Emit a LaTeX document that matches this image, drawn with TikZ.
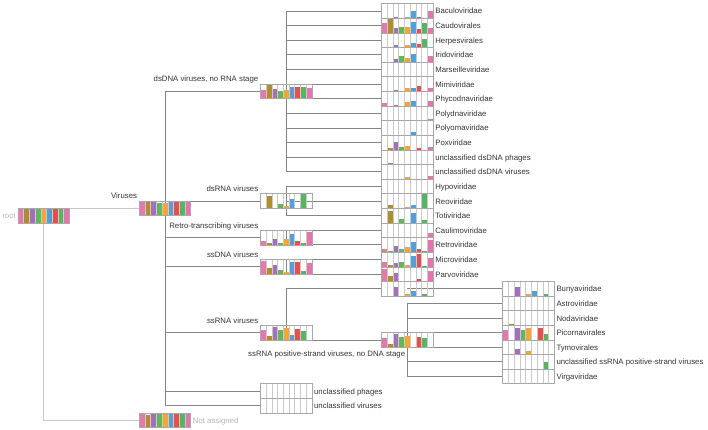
\documentclass[tikz,border=0pt]{standalone}
\usepackage{fontspec}
\setmainfont{Liberation Sans}
\usetikzlibrary{calc}
\definecolor{bar1}{HTML}{E678AF}
\definecolor{bar2}{HTML}{B08E2A}
\definecolor{bar3}{HTML}{A56EBE}
\definecolor{bar4}{HTML}{5FB95A}
\definecolor{bar5}{HTML}{F5A532}
\definecolor{bar6}{HTML}{50A0DC}
\definecolor{bar7}{HTML}{EE4B4B}
\definecolor{bar8}{HTML}{50B95F}
\definecolor{bar9}{HTML}{E872AE}
\definecolor{edgegray}{HTML}{858585}
\definecolor{rootgray}{HTML}{C8C8C8}
\definecolor{cellgray}{HTML}{CACACA}
\definecolor{framegray}{HTML}{A8A8A8}
\definecolor{labelgray}{HTML}{333333}
\definecolor{lightlabel}{HTML}{B4B4B4}
\newcommand{\lblfont}{\fontsize{7.8}{9}\selectfont}
\def\chtW{5.7222}
\def\chtH{14.62}
\newcommand{\drawchart}[2]{%
  \foreach \hh [count=\ii] in {#2} {
    \ifdim\hh pt>0pt
      \pgfmathsetmacro{\xo}{(\ii-1)*\chtW}
      \fill[bar\ii] ($(#1.south west)+(\xo,0)$) rectangle ++(\chtW,\hh*\chtH);
    \fi
  }
  \foreach \ii in {1,...,8} {
    \draw[cellsep] ($(#1.south west)+(\ii*\chtW,0)$) -- ++(0,\chtH);
  }
  \draw[chartframe] (#1.south west) rectangle (#1.north east);
}
\begin{document}
\begin{tikzpicture}[x=1pt,y=1pt,
  chart/.style={rectangle, minimum width=51.5pt, minimum height=14.62pt, inner sep=0pt, outer sep=0pt},
  edge/.style={draw=edgegray, line width=0.9pt},
  rootedge/.style={draw=rootgray, line width=0.9pt},
  cellsep/.style={draw=cellgray, line width=0.6pt},
  chartframe/.style={draw=framegray, line width=0.7pt},
  lbl/.style={font=\lblfont, text=labelgray, inner sep=0pt},
  glbl/.style={font=\lblfont, text=lightlabel, inner sep=0pt}]
\useasboundingbox (0,0) rectangle (708,-430);
% ---- chart nodes
\node[chart] (root) at (43.75,-215.68) {};
\node[chart] (vir) at (164.95,-208.37) {};
\node[chart] (na) at (164.95,-420.36) {};
\node[chart] (dsdna) at (286.15,-91.41) {};
\node[chart] (dsrna) at (286.15,-201.06) {};
\node[chart] (retro) at (286.15,-237.61) {};
\node[chart] (ssdna) at (286.15,-266.85) {};
\node[chart] (ssrna) at (286.15,-332.64) {};
\node[chart] (uph) at (286.15,-391.12) {};
\node[chart] (uvir) at (286.15,-405.74) {};
\node[chart] (bacu) at (407.35,-11.00) {};
\node[chart] (caudo) at (407.35,-25.62) {};
\node[chart] (herpes) at (407.35,-40.24) {};
\node[chart] (irido) at (407.35,-54.86) {};
\node[chart] (marse) at (407.35,-69.48) {};
\node[chart] (mimi) at (407.35,-84.10) {};
\node[chart] (phyco) at (407.35,-98.72) {};
\node[chart] (polyd) at (407.35,-113.34) {};
\node[chart] (polyo) at (407.35,-127.96) {};
\node[chart] (pox) at (407.35,-142.58) {};
\node[chart] (udsp) at (407.35,-157.20) {};
\node[chart] (udsv) at (407.35,-171.82) {};
\node[chart] (hypo) at (407.35,-186.44) {};
\node[chart] (reo) at (407.35,-201.06) {};
\node[chart] (toti) at (407.35,-215.68) {};
\node[chart] (cauli) at (407.35,-230.30) {};
\node[chart] (retrov) at (407.35,-244.92) {};
\node[chart] (micro) at (407.35,-259.54) {};
\node[chart] (parvo) at (407.35,-274.16) {};
\node[chart] (neg) at (407.35,-288.78) {};
\node[chart] (pos) at (407.35,-339.95) {};
\node[chart] (buny) at (528.55,-288.78) {};
\node[chart] (astro) at (528.55,-303.40) {};
\node[chart] (noda) at (528.55,-318.02) {};
\node[chart] (picorna) at (528.55,-332.64) {};
\node[chart] (tymo) at (528.55,-347.26) {};
\node[chart] (ussrna) at (528.55,-361.88) {};
\node[chart] (virga) at (528.55,-376.50) {};
% ---- connectors
\draw[rootedge] (root.center) |- (vir.west);
\draw[rootedge] (root.center) |- (na.west);
\foreach \c in {dsdna,dsrna,retro,ssdna,ssrna,uph,uvir} \draw[edge] (vir.center) |- (\c.west);
\foreach \c in {bacu,caudo,herpes,irido,marse,mimi,phyco,polyd,polyo,pox,udsp,udsv} \draw[edge] (dsdna.center) |- (\c.west);
\foreach \c in {hypo,reo,toti} \draw[edge] (dsrna.center) |- (\c.west);
\foreach \c in {cauli,retrov} \draw[edge] (retro.center) |- (\c.west);
\foreach \c in {micro,parvo} \draw[edge] (ssdna.center) |- (\c.west);
\foreach \c in {neg,pos} \draw[edge] (ssrna.center) |- (\c.west);
\draw[edge] (neg.center) |- (buny.west);
\foreach \c in {astro,noda,picorna,tymo,ussrna,virga} \draw[edge] (pos.center) |- (\c.west);
% ---- charts
\drawchart{root}{1,1,1,1,1,1,1,1,1}
\drawchart{vir}{1,1,1,0.85,0.85,1,1,1,1}
\drawchart{na}{1,0.85,1,1,1,1,1,1,1}
\drawchart{dsdna}{0.62,0.95,0.67,0.5,0.6,0.82,0.78,0.78,0.7}
\drawchart{dsrna}{0,0.85,0,0.3,0.15,0.65,0,0.95,0}
\drawchart{retro}{0.28,0.1,0.4,0.15,0.4,0.72,0.28,0.1,0.85}
\drawchart{ssdna}{0.9,0.45,0.6,0.3,0.18,0.8,0.85,0.22,0.75}
\drawchart{ssrna}{0.65,0.25,0.88,0.7,0.8,0.35,0.75,0.6,0}
\drawchart{uph}{0,0,0,0,0,0,0,0,0}
\drawchart{uvir}{0,0,0,0,0,0,0,0,0}
\drawchart{neg}{0,0,0.65,0,0.17,0.35,0,0.17,0}
\drawchart{pos}{0.65,0.2,0.88,0.7,0.8,0,0.7,0.6,0}
\drawchart{bacu}{0,0,0.1,0,0.1,0.5,0.1,0,0.5}
\drawchart{caudo}{0.65,0.95,0.35,0.4,0.4,0.75,0.28,0.7,0.35}
\drawchart{herpes}{0,0,0.2,0,0.15,0.3,0.22,0.6,0}
\drawchart{irido}{0,0,0.25,0.45,0.3,0.55,0,0,0.45}
\drawchart{marse}{0,0,0,0,0,0,0,0,0}
\drawchart{mimi}{0,0,0.1,0,0.2,0.25,0.35,0,0.2}
\drawchart{phyco}{0.2,0,0.1,0,0.25,0.35,0,0,0.35}
\drawchart{polyd}{0,0,0,0,0,0,0,0,0.08}
\drawchart{polyo}{0,0,0,0,0,0.2,0,0,0}
\drawchart{pox}{0,0.15,0.55,0.2,0.25,0,0.15,0,0.2}
\drawchart{udsp}{0,0.1,0,0,0,0,0,0,0}
\drawchart{udsv}{0,0,0,0,0.15,0,0,0,0.2}
\drawchart{hypo}{0,0,0,0,0,0,0,0,0}
\drawchart{reo}{0,0.25,0,0,0.1,0.25,0,0.95,0}
\drawchart{toti}{0,0.85,0,0.3,0,0.7,0,0.2,0}
\drawchart{cauli}{0,0,0,0,0,0,0,0,0.3}
\drawchart{retrov}{0.25,0.1,0.4,0.2,0.35,0.7,0.25,0.1,0.85}
\drawchart{micro}{0.3,0.15,0.25,0.3,0.15,0.75,0.85,0.08,0.6}
\drawchart{parvo}{0.85,0.4,0.55,0,0,0,0.2,0,0.75}
\drawchart{buny}{0,0,0.65,0,0.17,0.35,0,0.17,0}
\drawchart{astro}{0,0,0,0,0,0,0,0,0}
\drawchart{noda}{0,0.08,0,0,0,0,0,0,0}
\drawchart{picorna}{0.7,0,0.85,0.7,0.8,0,0.8,0.4,0}
\drawchart{tymo}{0,0,0.35,0,0.25,0,0,0,0}
\drawchart{ussrna}{0,0,0,0,0,0,0,0.5,0}
\drawchart{virga}{0,0,0,0,0,0,0,0,0}
% ---- labels
\node[glbl, anchor=base east] (troot) at ($(root.west)+(-2,-3)$) {root};
\node[glbl, anchor=base west] (tna) at ($(na.east)+(2,-3)$) {Not assigned};
\node[lbl, anchor=base east] (tvir) at ($(vir.north west)+(-2,2.2)$) {Viruses};
\node[lbl, anchor=base east] (tdsdna) at ($(dsdna.north west)+(-2,2.2)$) {dsDNA viruses, no RNA stage};
\node[lbl, anchor=base east] (tdsrna) at ($(dsrna.north west)+(-2,2.2)$) {dsRNA viruses};
\node[lbl, anchor=base east] (tretro) at ($(retro.north west)+(-2,2.2)$) {Retro-transcribing viruses};
\node[lbl, anchor=base east] (tssdna) at ($(ssdna.north west)+(-2,2.2)$) {ssDNA viruses};
\node[lbl, anchor=base east] (tssrna) at ($(ssrna.north west)+(-2,2.2)$) {ssRNA viruses};
\node[lbl, anchor=base east] (tpos) at ($(pos.south)+(-2,-9)$) {ssRNA positive-strand viruses, no DNA stage};
\foreach \n/\t in {uph/unclassified phages, uvir/unclassified viruses,
  bacu/Baculoviridae, caudo/Caudovirales, herpes/Herpesvirales, irido/Iridoviridae,
  marse/Marseilleviridae, mimi/Mimiviridae, phyco/Phycodnaviridae, polyd/Polydnaviridae,
  polyo/Polyomaviridae, pox/Poxviridae, udsp/unclassified dsDNA phages,
  udsv/unclassified dsDNA viruses, hypo/Hypoviridae, reo/Reoviridae, toti/Totiviridae,
  cauli/Caulimoviridae, retrov/Retroviridae, micro/Microviridae, parvo/Parvoviridae,
  buny/Bunyaviridae, astro/Astroviridae, noda/Nodaviridae, picorna/Picornavirales,
  tymo/Tymovirales, ussrna/unclassified ssRNA positive-strand viruses, virga/Virgaviridae}
  \node[lbl, anchor=base west] (t\n) at ($(\n.east)+(2,-3)$) {\t};
\end{tikzpicture}
\end{document}
